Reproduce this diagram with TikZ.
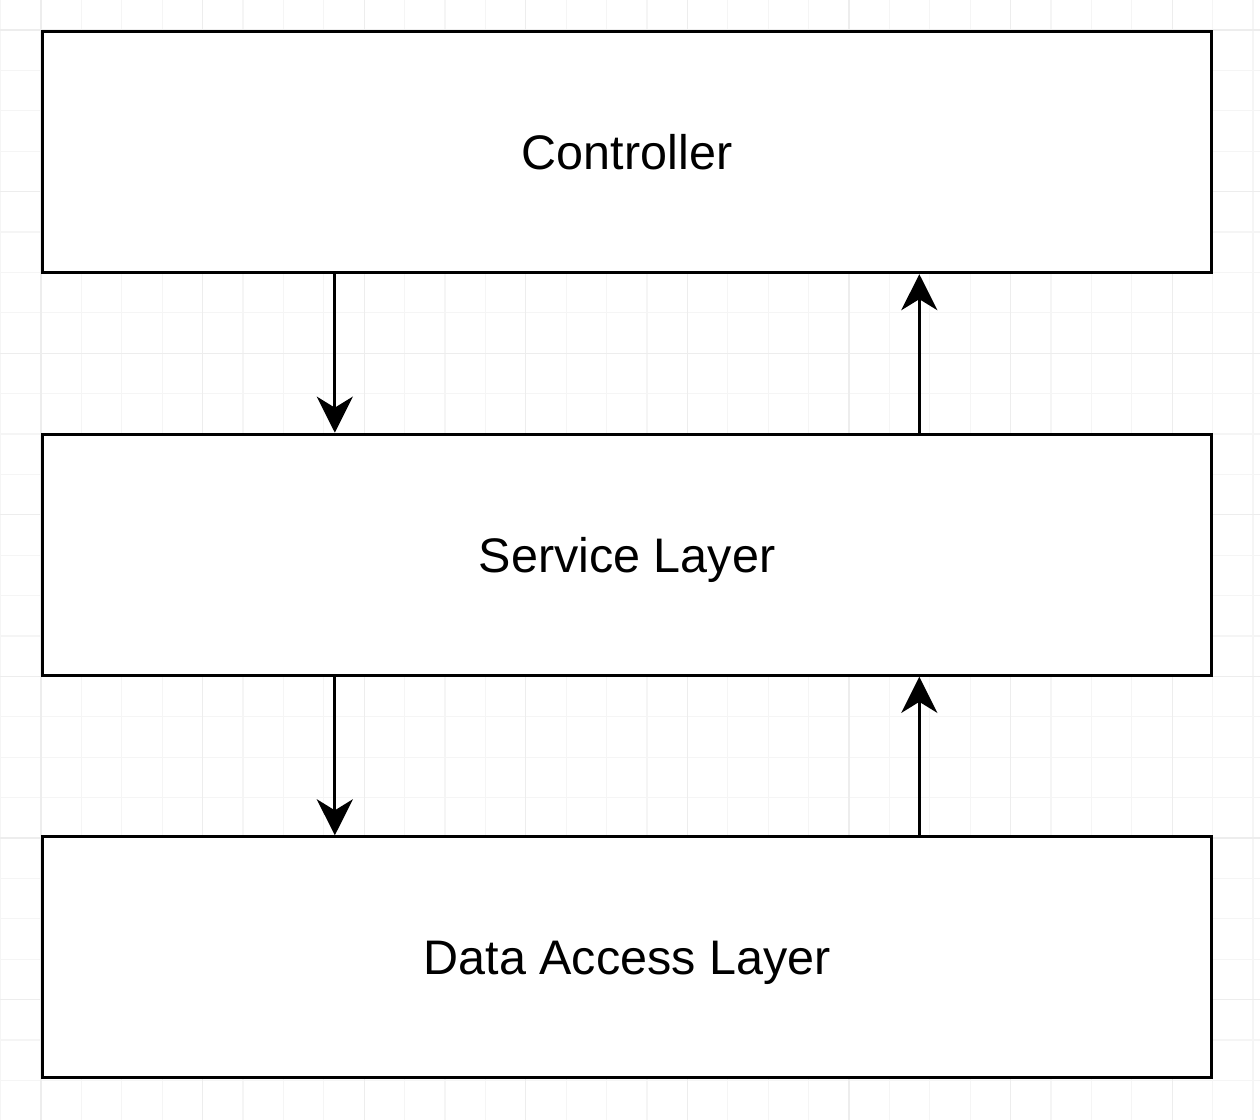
\documentclass[tikz,border=0pt]{standalone}
\usepackage{fontspec}
\setmainfont{Liberation Sans}
\usetikzlibrary{arrows.meta}
\usetikzlibrary{positioning}

\tikzset{
    layer/.style={draw=black, fill=white, line width=0.9pt, minimum width=11.69cm,
        minimum height=2.41cm, text height=9.9pt, text depth=0pt,
        font=\fontsize{13.8pt}{16pt}\selectfont},
    flow/.style={-{Stealth[length=0.36cm, width=0.36cm, inset=0.11cm]}, line width=0.9pt},
}

\begin{document}
\begin{tikzpicture}
        \useasboundingbox (-0.41,0.30) rectangle (12.19,-10.90);
        \draw[step=0.404cm, color=black!4, line width=0.3pt] (-0.41,0.30) grid (12.19,-10.90); % minor grid
        \draw[step=1.616cm, color=black!7, line width=0.3pt] (-0.41,0.30) grid (12.19,-10.90); % major grid
        \node[layer, anchor=north west] (ctrl) at (0,0) {Controller};
        \node[layer, below=1.585cm of ctrl] (svc) {Service Layer};
        \node[layer, below=1.585cm of svc] (dal) {Data Access Layer};
        \foreach \up/\down in {ctrl/svc, svc/dal} % edit here for the arrows
        {
        \draw[flow] ([xshift=-2.9225cm]\up.south) -- ([xshift=-2.9225cm]\down.north);
        \draw[flow] ([xshift=2.9225cm]\down.north) -- ([xshift=2.9225cm]\up.south);
        }
    \end{tikzpicture}
\end{document}
